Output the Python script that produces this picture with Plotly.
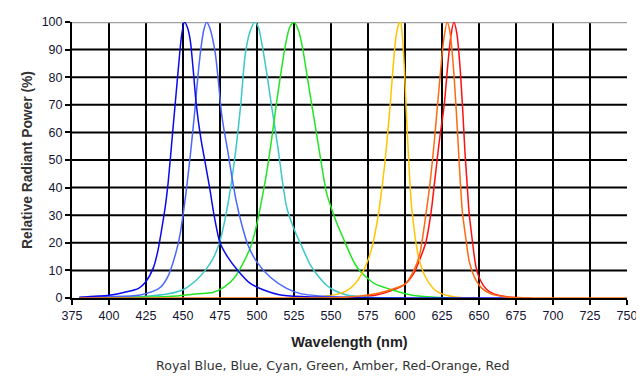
import plotly.graph_objects as go

# ---- data ----
royal_blue_wl = [380, 400, 410, 420, 425, 430, 433, 435, 438, 440, 443, 445, 447, 449, 451, 453, 455, 457, 459, 462, 465, 468, 471, 475, 480, 487, 495, 505, 515, 530, 550, 580, 620, 670]
royal_blue_val = [0.3, 1, 2, 3.5, 6, 11, 17, 23, 33, 42, 60, 72, 84, 95, 100, 98, 93, 82, 70, 58, 49, 40, 30, 20, 15, 10, 5.5, 2.8, 1.2, 0.5, 0.2, 0, 0, 0]

blue_wl = [380, 400, 420, 430, 435, 440, 445, 448, 450, 452, 455, 458, 460, 462, 464, 466, 468, 470, 472, 474, 476, 478, 480, 483, 486, 490, 494, 500, 509, 520, 530, 550, 575]
blue_val = [0.2, 0.5, 1, 2.5, 4, 8, 16, 23, 30, 38, 52, 68, 80, 90, 97, 100, 98, 94, 88, 78, 67, 60, 54, 44, 35, 26, 19, 13, 7.5, 3.5, 1.5, 0.5, 0]

cyan_wl = [380, 400, 425, 440, 450, 460, 465, 470, 474, 477, 480, 483, 486, 489, 492, 495, 498.5, 501, 504, 507, 510, 514, 517, 520, 525, 530, 536, 542, 547, 552, 560, 575, 600]
cyan_val = [0.1, 0.3, 0.6, 1.5, 3, 7, 10, 14, 19, 25, 33, 43, 55, 70, 88, 96, 100, 98, 90, 80, 69, 55, 43, 33, 25, 19, 12, 7.5, 4.6, 2.8, 1.2, 0.3, 0]

green_wl = [380, 440, 460, 470, 478, 485, 490, 496, 500, 503, 507, 510, 513, 516, 519, 522, 525, 528, 531, 534, 537, 541, 544, 547, 550, 554, 558, 562, 566, 570, 575, 580, 592, 605, 620, 640]
green_val = [0, 0.5, 1.5, 2, 4, 7.5, 12, 19, 27, 35, 47, 58, 70, 81, 91, 98, 100, 97, 90, 80, 70, 57, 47, 38, 33, 27, 22, 17, 12.5, 9.5, 7, 5, 2.8, 1, 0.3, 0]

amber_wl = [520, 540, 555, 561, 566, 570, 574, 578, 581, 583, 586, 588, 590, 592, 594, 596, 597, 598, 599.5, 601, 602.5, 604, 605.5, 607.6, 610, 613, 616.5, 620, 625, 635, 650]
amber_val = [0, 0.3, 1.5, 2.8, 5, 8, 12.3, 19, 27, 34, 47, 58, 70, 84, 95, 99.5, 100, 96, 84, 66, 50, 36, 28, 19.3, 13, 8.5, 5.2, 3, 1.5, 0.3, 0]

red_wl = [540, 560, 580, 590, 600, 606, 610, 614, 617.6, 620, 623, 626.5, 629, 631, 633, 635, 637, 638.8, 640.5, 642, 643.3, 645, 647.7, 650, 655, 660, 670, 685]
red_val = [0, 0.2, 1, 2.5, 5, 9, 14, 20, 31, 42, 56, 70, 85, 95, 100, 96, 85, 70, 53, 41, 31, 23, 12, 7.5, 3.2, 1.5, 0.4, 0]

red_orange_wl = [380, 450, 520, 560, 580, 590, 600, 606, 610, 614.3, 617, 619.5, 622, 624, 626, 628.5, 630.5, 632.5, 634.4, 636, 637.5, 638.8, 641, 643.5, 647, 652, 658, 670, 700, 750]
red_orange_val = [0, 0, 0, 0.3, 1.5, 3, 5, 10, 16, 31, 42, 55, 70, 82, 93, 100, 96, 85, 70, 55, 41, 31, 22, 13, 7.5, 3.5, 1.5, 0.3, 0, 0]

x_ticks = [375, 400, 425, 450, 475, 500, 525, 550, 575, 600, 625, 650, 675, 700, 725, 750]
y_ticks = [0, 10, 20, 30, 40, 50, 60, 70, 80, 90, 100]
v_grid = x_ticks[1:-1]
h_grid = y_ticks[1:-1]

series = [
    ("Red", red_wl, red_val, "#FF1010"),
    ("Cyan", cyan_wl, cyan_val, "#3CC8C8"),
    ("Green", green_wl, green_val, "#22E622"),
    ("Amber", amber_wl, amber_val, "#FFC400"),
    ("Blue", blue_wl, blue_val, "#4A66FF"),
    ("Royal Blue", royal_blue_wl, royal_blue_val, "#0A0AF0"),
    ("Red-Orange", red_orange_wl, red_orange_val, "#FF6A10"),
]

fig = go.Figure()
for name, wl, val, col in series:
    fig.add_trace(go.Scatter(x=wl, y=val, mode="lines", name=name,
                             line=dict(color=col, width=1.5, shape="spline", smoothing=0.7),
                             hoverinfo="skip"))

shapes = []
for v in v_grid:
    shapes.append(dict(type="line", xref="x", yref="paper", x0=v, x1=v, y0=0, y1=1,
                       line=dict(color="black", width=2), layer="between"))
for h in h_grid:
    shapes.append(dict(type="line", xref="paper", yref="y", x0=0, x1=1, y0=h, y1=h,
                       line=dict(color="black", width=2), layer="between"))
shapes.append(dict(type="line", xref="paper", yref="y", x0=0, x1=1, y0=100, y1=100,
                   line=dict(color="#A0A0A0", width=2.5), layer="between"))

tick_font = dict(family="Liberation Sans, Arial", size=12.5, color="#141432")

fig.update_layout(
    width=636, height=372,
    margin=dict(l=64, r=11, t=7, b=82),
    paper_bgcolor="white", plot_bgcolor="white",
    showlegend=False,
    shapes=shapes,
    xaxis=dict(range=[375, 750], tickvals=x_ticks, ticktext=[str(t) for t in x_ticks],
               showgrid=False, zeroline=False, showline=True, linecolor="black", linewidth=2,
               ticks="outside", ticklen=5, tickwidth=2, tickcolor="black",
               tickfont=tick_font,
               title=dict(text="<b>Wavelength (nm)</b>", font=dict(family="Liberation Sans, Arial", size=14.5, color="#222222"), standoff=15)),
    yaxis=dict(range=[0, 100], tickvals=y_ticks, ticktext=[str(t) for t in y_ticks],
               showgrid=False, zeroline=False, showline=True, linecolor="black", linewidth=2,
               ticks="outside", ticklen=5, tickwidth=2, tickcolor="black",
               tickfont=tick_font,
               title=dict(text="<b>Relative Radiant Power (%)</b>", font=dict(family="Liberation Sans, Arial", size=13.8, color="#333333"), standoff=6)),
    annotations=[dict(text="Royal Blue, Blue, Cyan, Green, Amber, Red-Orange, Red",
                      xref="paper", yref="paper", x=0.47, y=-0.244, yanchor="middle",
                      showarrow=False, font=dict(family="DejaVu Sans, Verdana", size=12.6, color="#333333"))],
)

fig.write_html("out.html")
